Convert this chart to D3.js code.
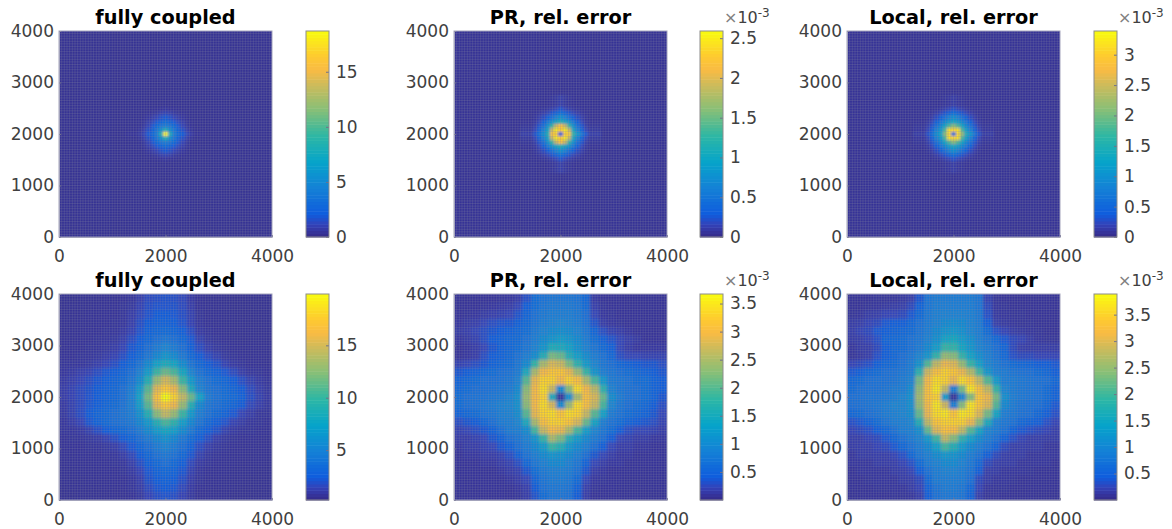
<!DOCTYPE html>
<html>
<head>
<meta charset="utf-8">
<script src="https://cdnjs.cloudflare.com/ajax/libs/d3/7.8.5/d3.min.js"></script>
<style>
    html, body { margin: 0; padding: 0; background: #fff; }
    svg { display: block; }
    text { font-family: "DejaVu Sans", sans-serif; }
</style>
</head>
<body>
<svg id="chart" width="1172" height="529"></svg>
<script>
// parula colormap, sampled
var parulaStops = [0, 0.032, 0.0635, 0.111, 0.238, 0.365, 0.492, 0.619, 0.746, 0.81, 0.873, 1];
var parulaColors = ["#352a87", "#3636a0", "#3243ba", "#0f5cdd", "#1481d6", "#06a4ca", "#2eb7a4", "#87bf77", "#d1bb59", "#f8bb44", "#fec832", "#f9fb0e"];

var axisTicksX = [0, 2000, 4000];
var axisTicksY = [0, 1000, 2000, 3000, 4000];

var titles = ["fully coupled", "PR, rel. error", "Local, rel. error"];

// colorbar limits and ticks, top row then bottom row
var limitsTop = [[0, 18.7], [0, 2.59], [0, 3.39]];
var limitsBottom = [[0.24, 19.9], [0, 3.67], [0, 3.89]];
var ticksTop = [[0, 5, 10, 15], [0, 0.5, 1, 1.5, 2, 2.5], [0, 0.5, 1, 1.5, 2, 2.5, 3]];
var ticksBottom = [[5, 10, 15], [0.5, 1, 1.5, 2, 2.5, 3, 3.5], [0.5, 1, 1.5, 2, 2.5, 3, 3.5]];

// top row: only the middle of the domain differs from the background
var backgroundTop = [0.3, 0.05, 0.07];
var cellTop = 80;
var cellBottom = 160;

var fullyTop = [
    [.3, .3, .3, .3, .3, .32, .32, .35, .32, .32, .3, .3, .3, .3, .3],
    [.3, .3, .3, .32, .35, .4, .45, .6, .45, .4, .35, .32, .3, .3, .3],
    [.3, .3, .33, .4, .5, .65, .9, 1.1, .9, .65, .5, .4, .33, .3, .3],
    [.3, .32, .4, .6, .9, 1.2, 1.6, 1.9, 1.6, 1.2, .9, .6, .4, .32, .3],
    [.3, .35, .5, .9, 1.4, 2, 2.6, 3, 2.6, 2, 1.4, .9, .5, .35, .3],
    [.32, .4, .65, 1.2, 2, 3, 3.7, 4.2, 3.7, 3, 2, 1.2, .65, .4, .32],
    [.35, .5, .9, 1.6, 2.6, 3.7, 5.5, 8, 5.5, 3.7, 2.6, 1.6, .9, .5, .35],
    [.45, .7, 1.2, 2, 3, 4.2, 8, 18.5, 8, 4.2, 3, 2.1, 1.3, .75, .45],
    [.35, .5, .9, 1.6, 2.6, 3.7, 5.5, 8, 5.5, 3.7, 2.6, 1.6, .9, .5, .35],
    [.32, .4, .65, 1.2, 2, 3, 3.7, 4.2, 3.7, 3, 2, 1.2, .65, .4, .32],
    [.3, .35, .5, .9, 1.4, 2, 2.6, 3, 2.6, 2, 1.4, .9, .5, .35, .3],
    [.3, .32, .4, .6, .9, 1.2, 1.6, 1.9, 1.6, 1.2, .9, .6, .4, .32, .3],
    [.3, .3, .33, .4, .5, .65, .9, 1.1, .9, .65, .5, .4, .33, .3, .3],
    [.3, .3, .3, .32, .35, .4, .45, .6, .45, .4, .35, .32, .3, .3, .3],
    [.3, .3, .3, .3, .3, .32, .32, .35, .32, .32, .3, .3, .3, .3, .3]
];

var prTop = [
    [.05, .05, .05, .05, .06, .07, .09, .12, .09, .07, .06, .05, .05, .05, .05],
    [.05, .05, .06, .07, .09, .12, .17, .25, .17, .12, .09, .07, .06, .05, .05],
    [.05, .06, .08, .12, .17, .25, .34, .45, .34, .25, .17, .12, .08, .06, .05],
    [.05, .07, .12, .2, .32, .46, .62, .75, .62, .46, .32, .2, .12, .07, .05],
    [.06, .09, .17, .32, .55, .8, 1, 1.15, 1, .8, .55, .32, .17, .09, .06],
    [.07, .12, .25, .46, .8, 1.3, 1.9, 2.2, 1.9, 1.3, .8, .46, .25, .12, .07],
    [.09, .17, .34, .62, 1, 1.9, 2.5, 2.3, 2.5, 1.9, 1.05, .62, .34, .17, .09],
    [.12, .25, .45, .75, 1.15, 2.2, 2.3, .3, 2.3, 2.3, 1.3, .85, .5, .27, .12],
    [.09, .17, .34, .62, 1, 1.9, 2.5, 2.3, 2.5, 1.9, 1.05, .62, .34, .17, .09],
    [.07, .12, .25, .46, .8, 1.3, 1.9, 2.2, 1.9, 1.3, .8, .46, .25, .12, .07],
    [.06, .09, .17, .32, .55, .8, 1, 1.15, 1, .8, .55, .32, .17, .09, .06],
    [.05, .07, .12, .2, .32, .46, .62, .75, .62, .46, .32, .2, .12, .07, .05],
    [.05, .06, .08, .12, .17, .25, .34, .45, .34, .25, .17, .12, .08, .06, .05],
    [.05, .05, .06, .07, .09, .12, .17, .25, .17, .12, .09, .07, .06, .05, .05],
    [.05, .05, .05, .05, .06, .07, .09, .12, .09, .07, .06, .05, .05, .05, .05]
];

var localTop = [
    [.07, .07, .07, .07, .08, .09, .11, .14, .11, .09, .08, .07, .07, .07, .07],
    [.07, .07, .08, .09, .12, .16, .22, .3, .22, .16, .12, .09, .08, .07, .07],
    [.07, .08, .1, .15, .23, .32, .44, .56, .44, .32, .23, .15, .1, .08, .07],
    [.07, .09, .15, .26, .42, .6, .8, .95, .8, .6, .42, .26, .15, .09, .07],
    [.08, .12, .23, .42, .65, .9, 1.15, 1.3, 1.15, .9, .65, .42, .23, .12, .08],
    [.09, .16, .32, .6, .9, 1.3, 1.8, 2.1, 1.8, 1.3, .9, .6, .32, .16, .09],
    [.11, .22, .44, .8, 1.15, 1.8, 3.2, 3.1, 3.2, 1.8, 1.2, .8, .44, .22, .11],
    [.14, .3, .56, .95, 1.3, 2.1, 3.1, .6, 3.1, 2.2, 1.45, 1.05, .62, .32, .14],
    [.11, .22, .44, .8, 1.15, 1.8, 3.2, 3.1, 3.2, 1.8, 1.2, .8, .44, .22, .11],
    [.09, .16, .32, .6, .9, 1.3, 1.8, 2.1, 1.8, 1.3, .9, .6, .32, .16, .09],
    [.08, .12, .23, .42, .65, .9, 1.15, 1.3, 1.15, .9, .65, .42, .23, .12, .08],
    [.07, .09, .15, .26, .42, .6, .8, .95, .8, .6, .42, .26, .15, .09, .07],
    [.07, .08, .1, .15, .23, .32, .44, .56, .44, .32, .23, .15, .1, .08, .07],
    [.07, .07, .08, .09, .12, .16, .22, .3, .22, .16, .12, .09, .08, .07, .07],
    [.07, .07, .07, .07, .08, .09, .11, .14, .11, .09, .08, .07, .07, .07, .07]
];

var fullyBottom = [
    [.55, .55, .6, .6, .6, .65, .65, .7, .8, 1.2, 1.7, 1.9, 2, 1.9, 1.6, 1, .7, .6, .6, .55, .55, .55, .55, .55, .55],
    [.55, .6, .6, .6, .65, .65, .7, .75, .9, 1.4, 1.9, 2.1, 2.1, 2, 1.7, 1.1, .7, .65, .6, .6, .55, .55, .55, .55, .55],
    [.6, .6, .6, .65, .65, .7, .7, .8, 1.1, 1.6, 2.1, 2.4, 2.4, 2.3, 1.9, 1.3, .75, .65, .65, .6, .6, .55, .55, .55, .55],
    [.6, .6, .65, .65, .7, .7, .75, .85, 1.2, 1.9, 2.4, 2.8, 2.8, 2.6, 2.1, 1.4, .85, .7, .65, .6, .6, .6, .55, .55, .55],
    [.6, .65, .65, .7, .7, .75, .8, 1, 1.4, 2.1, 2.8, 3.2, 3.4, 3.1, 2.6, 1.8, 1, .8, .7, .65, .6, .6, .6, .55, .55],
    [.65, .65, .7, .7, .75, .8, .9, 1.2, 1.8, 2.5, 3.2, 3.8, 4.2, 3.8, 3.2, 2.3, 1.3, .9, .75, .7, .65, .6, .6, .6, .55],
    [.65, .7, .7, .75, .8, .9, 1.1, 1.5, 2.2, 2.9, 3.7, 4.5, 5.2, 4.6, 3.7, 2.7, 1.8, 1.2, .9, .75, .7, .65, .65, .6, .6],
    [.7, .7, .75, .8, .9, 1.1, 1.4, 1.9, 2.6, 3.4, 4.3, 5.4, 6.5, 5.6, 4.4, 3.3, 2.4, 1.8, 1.3, .9, .75, .7, .65, .65, .6],
    [.75, .8, .85, .95, 1.2, 1.5, 1.9, 2.5, 3.2, 4.1, 5.6, 7.5, 8.5, 7.8, 5.8, 4.1, 3.2, 2.5, 2, 1.4, 1, .8, .7, .65, .6],
    [.85, 1, 1.2, 1.4, 1.8, 2.2, 2.6, 3.1, 3.7, 5, 7, 10, 11.5, 10.5, 8, 5.3, 3.9, 3.3, 2.8, 2.3, 1.7, 1.1, .85, .75, .7],
    [1, 1.2, 1.5, 1.8, 2.2, 2.6, 3, 3.4, 4.2, 5.8, 9, 13, 15, 13.5, 10, 6.8, 4.7, 3.9, 3.5, 3.1, 2.5, 1.9, 1.3, 1, .8],
    [1.1, 1.4, 1.7, 2, 2.4, 2.8, 3.2, 3.7, 4.7, 7, 11, 15.5, 17.5, 16, 12.5, 8.5, 5.2, 4.2, 3.7, 3.5, 3, 2.4, 1.7, 1.2, .9],
    [1.1, 1.4, 1.7, 2.1, 2.5, 2.9, 3.3, 3.8, 4.9, 7.5, 12, 17, 20, 18, 14.5, 11.5, 7.5, 4.5, 3.9, 3.6, 3.3, 2.7, 1.9, 1.3, 1],
    [1, 1.3, 1.7, 2.2, 2.6, 3.1, 3.5, 4, 4.9, 7.2, 11, 15.5, 17.5, 16, 13, 9, 5.5, 4.2, 3.7, 3.4, 3, 2.4, 1.6, 1.2, .9],
    [.95, 1.3, 1.8, 2.4, 3, 3.4, 3.8, 4.2, 4.7, 6.2, 9, 12.5, 14.5, 13, 10, 6.8, 4.7, 3.9, 3.4, 2.9, 2.3, 1.5, 1.1, .8, .75],
    [.85, 1.1, 1.5, 2.2, 2.9, 3.4, 3.8, 4, 4.4, 5.4, 6.8, 9, 10.5, 9.5, 7.2, 5.4, 4.1, 3.3, 2.6, 2.1, 1.4, 1.05, .85, .75, .7],
    [.8, .85, 1, 1.3, 1.9, 2.5, 3.1, 3.4, 3.8, 4.6, 5.7, 7, 8, 7.2, 5.7, 4.4, 3.3, 2.6, 2, 1.3, 1, .8, .75, .7, .65],
    [.7, .75, .8, .9, 1.05, 1.4, 1.9, 2.5, 3.1, 3.7, 4.5, 5.4, 6.2, 5.4, 4.3, 3.5, 2.6, 1.9, 1.2, .9, .75, .7, .7, .65, .6],
    [.65, .7, .7, .75, .8, .9, 1.1, 1.6, 2.3, 3.1, 3.8, 4.6, 5.1, 4.6, 3.7, 2.8, 1.8, 1.2, .9, .75, .7, .65, .65, .6, .6],
    [.65, .65, .7, .7, .7, .75, .85, 1.1, 1.6, 2.4, 3.2, 3.9, 4.3, 3.9, 3.2, 2.2, 1.3, .9, .75, .7, .65, .65, .6, .6, .6],
    [.6, .65, .65, .65, .7, .7, .75, .85, 1.2, 1.9, 2.7, 3.3, 3.7, 3.3, 2.6, 1.6, 1, .8, .7, .65, .65, .6, .6, .6, .55],
    [.6, .6, .65, .65, .65, .7, .7, .75, 1, 1.5, 2.3, 2.9, 3.2, 2.9, 2.2, 1.3, .85, .7, .65, .65, .6, .6, .6, .55, .55],
    [.6, .6, .6, .65, .65, .65, .7, .7, .85, 1.2, 2, 2.5, 2.8, 2.5, 1.9, 1.1, .75, .65, .65, .6, .6, .6, .55, .55, .55],
    [.55, .6, .6, .6, .6, .65, .65, .7, .8, 1.05, 1.7, 2.2, 2.4, 2.2, 1.6, 1, .7, .65, .6, .6, .6, .55, .55, .55, .55],
    [.55, .55, .6, .6, .6, .6, .65, .65, .7, .9, 1.5, 1.9, 2.1, 1.9, 1.4, .9, .65, .65, .6, .6, .55, .55, .55, .55, .55]
];

var prBottom = [
    [.08, .08, .09, .09, .09, .1, .12, .16, .32, .62, .7, .74, .74, .74, .7, .56, .14, .09, .08, .08, .08, .08, .08, .08, .08],
    [.08, .09, .09, .1, .12, .14, .16, .24, .44, .64, .74, .78, .78, .78, .74, .6, .18, .1, .09, .09, .08, .08, .08, .08, .08],
    [.09, .1, .12, .15, .18, .2, .24, .34, .52, .68, .78, .84, .84, .84, .78, .65, .24, .12, .1, .09, .09, .09, .08, .08, .08],
    [.12, .15, .18, .24, .3, .34, .36, .46, .58, .72, .84, .9, .94, .9, .84, .7, .34, .16, .12, .1, .09, .09, .09, .08, .08],
    [.15, .18, .24, .3, .36, .42, .48, .54, .64, .78, .92, 1, 1.05, 1, .92, .76, .52, .3, .2, .16, .12, .09, .09, .08, .08],
    [.12, .15, .2, .3, .42, .48, .54, .6, .7, .84, 1, 1.15, 1.25, 1.15, 1, .82, .64, .46, .34, .24, .18, .14, .09, .09, .09],
    [.09, .12, .16, .24, .36, .48, .54, .64, .75, .92, 1.15, 1.55, 1.5, 1.35, 1.1, .9, .74, .6, .46, .24, .16, .12, .12, .12, .12],
    [.09, .12, .16, .3, .42, .5, .6, .7, .85, 1.05, 1.6, 2.2, 2.1, 1.6, 1.3, 1.05, .84, .7, .54, .3, .24, .24, .2, .2, .2],
    [.2, .24, .3, .36, .48, .54, .62, .75, 1, 1.8, 2.5, 2.8, 2.7, 2.2, 1.7, 1.25, .95, .75, .65, .55, .48, .42, .36, .36, .3],
    [.36, .42, .5, .56, .62, .66, .7, .8, 1.5, 2.5, 3, 3.2, 3.2, 2.9, 2.4, 1.8, 1.15, .85, .75, .66, .62, .56, .5, .42, .36],
    [.5, .56, .62, .66, .66, .7, .75, .9, 2, 2.9, 3.3, 3.3, 3, 3.3, 3.1, 2.5, 1.9, 1.2, .8, .75, .7, .62, .62, .5, .42],
    [.56, .62, .66, .66, .7, .75, .8, 1, 2.3, 3, 3.4, 2.7, 1, 2.3, 3.4, 3, 2.6, 1.7, .9, .75, .7, .66, .62, .5, .42],
    [.62, .66, .7, .7, .75, .8, .9, 1.1, 2.4, 3, 3.3, 1.5, .1, 1.1, 2.5, 3.1, 2.8, 2.1, 1.05, .8, .7, .66, .62, .5, .36],
    [.62, .66, .7, .75, .8, .9, .95, 1.1, 2.3, 3, 3.4, 2.8, 1, 2.4, 3.4, 3.1, 2.7, 1.9, .95, .75, .66, .62, .56, .42, .3],
    [.5, .56, .62, .7, .75, .85, .9, 1.05, 2, 2.9, 3.3, 3.4, 3.2, 3.4, 3.3, 2.7, 2, 1.35, .8, .7, .62, .56, .5, .36, .24],
    [.3, .36, .42, .55, .66, .8, .85, .95, 1.5, 2.5, 3.1, 3.3, 3.3, 3.2, 2.8, 2.1, 1.4, .85, .7, .62, .5, .42, .36, .3, .2],
    [.2, .24, .3, .36, .48, .66, .8, .85, 1.05, 1.9, 2.7, 3, 2.9, 2.5, 1.9, 1.3, .95, .75, .62, .42, .3, .24, .24, .2, .16],
    [.16, .16, .2, .24, .36, .48, .66, .75, .9, 1.15, 1.8, 2.5, 2.2, 1.6, 1.25, 1, .8, .66, .42, .24, .2, .16, .16, .12, .12],
    [.12, .15, .16, .2, .24, .36, .48, .66, .8, .98, 1.25, 1.8, 1.6, 1.2, 1, .85, .66, .42, .24, .16, .16, .12, .12, .09, .09],
    [.09, .12, .12, .15, .16, .2, .3, .48, .7, .85, 1, 1.15, 1.1, .98, .85, .66, .36, .24, .16, .12, .12, .09, .09, .09, .09],
    [.09, .09, .09, .12, .12, .16, .2, .3, .54, .75, .88, .98, .98, .88, .75, .48, .24, .16, .12, .12, .09, .09, .09, .09, .08],
    [.08, .09, .09, .09, .09, .12, .16, .2, .36, .64, .78, .86, .86, .82, .68, .36, .16, .12, .09, .09, .09, .09, .08, .08, .08],
    [.08, .08, .09, .09, .09, .09, .12, .16, .24, .52, .72, .8, .8, .76, .6, .24, .12, .1, .09, .09, .08, .08, .08, .08, .08],
    [.08, .08, .08, .09, .09, .09, .09, .12, .18, .4, .68, .76, .76, .72, .48, .18, .1, .09, .09, .08, .08, .08, .08, .08, .08],
    [.07, .08, .08, .08, .08, .09, .09, .1, .16, .34, .62, .72, .72, .68, .4, .16, .09, .09, .08, .08, .08, .08, .07, .07, .07]
];

var localBottom = [
    [.09, .09, .09, .1, .1, .12, .14, .18, .38, .78, .84, .84, .84, .84, .84, .78, .22, .1, .09, .09, .09, .09, .09, .09, .09],
    [.09, .09, .1, .12, .14, .16, .18, .28, .52, .78, .88, .88, .88, .88, .88, .78, .28, .12, .1, .09, .09, .09, .09, .09, .09],
    [.1, .12, .16, .18, .24, .26, .28, .4, .62, .82, .92, .96, .96, .96, .92, .82, .34, .14, .12, .1, .1, .09, .09, .09, .09],
    [.16, .18, .24, .28, .4, .46, .46, .58, .72, .84, .96, 1.05, 1.1, 1.05, .96, .84, .46, .18, .14, .12, .1, .1, .09, .09, .09],
    [.18, .24, .28, .4, .46, .55, .58, .64, .76, .88, 1.05, 1.2, 1.25, 1.15, 1, .88, .64, .34, .24, .16, .14, .12, .1, .09, .09],
    [.16, .18, .24, .34, .55, .6, .64, .72, .8, .96, 1.15, 1.45, 1.55, 1.3, 1.15, .92, .76, .6, .4, .28, .24, .16, .12, .1, .1],
    [.12, .16, .18, .28, .46, .6, .64, .72, .84, 1.05, 1.35, 1.9, 1.85, 1.5, 1.25, 1, .84, .68, .55, .28, .18, .16, .16, .16, .16],
    [.1, .14, .18, .34, .46, .58, .68, .8, 1, 1.25, 1.85, 2.5, 2.4, 1.85, 1.45, 1.15, .92, .76, .6, .34, .28, .28, .24, .24, .24],
    [.24, .28, .34, .46, .58, .64, .72, .84, 1.2, 2.1, 2.8, 3.1, 3, 2.5, 1.9, 1.4, 1, .84, .72, .64, .58, .55, .46, .46, .4],
    [.4, .46, .58, .64, .68, .72, .8, .88, 1.8, 2.9, 3.3, 3.5, 3.4, 3.1, 2.7, 2, 1.25, .92, .84, .76, .72, .68, .64, .58, .46],
    [.58, .64, .68, .72, .72, .76, .84, .96, 2.3, 3.2, 3.6, 3.5, 3.1, 3.6, 3.4, 2.8, 2.1, 1.3, .88, .84, .8, .76, .72, .68, .58],
    [.64, .68, .72, .72, .76, .84, .88, 1.1, 2.5, 3.3, 3.7, 2.8, .9, 2.3, 3.7, 3.3, 2.8, 1.9, 1, .84, .8, .76, .72, .64, .52],
    [.68, .72, .76, .76, .8, .88, 1, 1.15, 2.6, 3.3, 3.5, 1.3, .1, 1, 2.4, 3.4, 3.1, 2.3, 1.15, .88, .8, .76, .72, .64, .52],
    [.68, .72, .76, .8, .88, 1, 1, 1.15, 2.5, 3.2, 3.7, 2.9, .9, 2.4, 3.7, 3.4, 3, 2.1, 1.05, .84, .76, .72, .68, .58, .4],
    [.58, .64, .68, .76, .84, .92, 1, 1.1, 2.2, 3.1, 3.6, 3.7, 3.4, 3.7, 3.6, 3, 2.3, 1.5, .88, .8, .72, .68, .58, .46, .34],
    [.34, .4, .52, .64, .76, .88, .92, 1, 1.7, 2.8, 3.4, 3.5, 3.5, 3.5, 3.1, 2.4, 1.6, .92, .8, .72, .58, .52, .46, .34, .24],
    [.24, .28, .34, .46, .58, .72, .88, .92, 1.15, 2.2, 3, 3.3, 3.2, 2.8, 2.1, 1.5, 1, .84, .72, .52, .4, .34, .28, .24, .18],
    [.18, .18, .24, .28, .4, .58, .72, .84, 1, 1.3, 1.95, 2.8, 2.4, 1.8, 1.4, 1.1, .88, .72, .52, .34, .24, .18, .18, .16, .16],
    [.16, .18, .18, .24, .28, .4, .58, .72, .88, 1.05, 1.4, 2, 1.7, 1.3, 1.05, .88, .72, .52, .28, .18, .18, .16, .16, .12, .12],
    [.12, .16, .16, .18, .18, .24, .34, .58, .8, .92, 1.1, 1.25, 1.2, 1.05, .88, .72, .46, .28, .18, .16, .16, .12, .12, .12, .12],
    [.12, .12, .12, .16, .16, .18, .24, .34, .64, .84, .96, 1.05, 1.05, .96, .8, .58, .28, .18, .16, .16, .12, .12, .12, .12, .09],
    [.09, .12, .12, .12, .12, .16, .18, .24, .46, .72, .88, .96, .96, .88, .76, .46, .18, .16, .12, .12, .12, .1, .09, .09, .09],
    [.09, .09, .1, .12, .12, .12, .16, .18, .28, .62, .84, .88, .88, .84, .68, .28, .16, .12, .12, .1, .09, .09, .09, .09, .09],
    [.09, .09, .09, .1, .1, .12, .12, .16, .24, .52, .76, .84, .84, .8, .58, .24, .12, .1, .1, .09, .09, .09, .09, .09, .09],
    [.08, .09, .09, .09, .09, .1, .1, .12, .18, .46, .72, .8, .8, .76, .52, .18, .1, .1, .09, .09, .09, .09, .08, .08, .08]
];

var svg = d3.select("#chart");
var defs = svg.append("defs");

var plotW = 213, plotH = 206, barW = 23;
var colX = [59, 454, 847];
var barX = [306, 700, 1094];
var rowY = [31, 294];
var textColor = "#404040";

defs.append("filter").attr("id", "blurTop")
    .attr("x", "-10%").attr("y", "-10%").attr("width", "120%").attr("height", "120%")
    .append("feGaussianBlur").attr("stdDeviation", 0.9);
defs.append("filter").attr("id", "blurBottom")
    .attr("x", "-10%").attr("y", "-10%").attr("width", "120%").attr("height", "120%")
    .append("feGaussianBlur").attr("stdDeviation", 1.8);

var parula = d3.scaleLinear().domain(parulaStops).range(parulaColors).interpolate(d3.interpolateRgb);

function drawHeat(g, id, values, cell, limits, base, filterId) {
    var x = d3.scaleLinear().domain([0, 4000]).range([0, plotW]);
    var y = d3.scaleLinear().domain([0, 4000]).range([plotH, 0]);
    var norm = d3.scaleLinear().domain(limits).range([0, 1]).clamp(true);
    var n = values.length;

    defs.append("clipPath").attr("id", id)
        .append("rect").attr("width", plotW).attr("height", plotH);

    var clipped = g.append("g").attr("clip-path", "url(#" + id + ")");
    var heat = clipped.append("g").attr("filter", "url(#" + filterId + ")");

    heat.append("rect")
        .attr("x", -15).attr("y", -15)
        .attr("width", plotW + 30).attr("height", plotH + 30)
        .attr("fill", parula(norm(base)));

    // two extra cells per side so the blur does not fade at the frame
    var cells = [];
    for (var r = -2; r < n + 2; r++) {
        for (var c = -2; c < n + 2; c++) {
            var rr = Math.max(0, Math.min(n - 1, r));
            var cc = Math.max(0, Math.min(n - 1, c));
            cells.push({r: r, c: c, v: values[rr][cc]});
        }
    }
    var half = n * cell / 2;
    heat.selectAll("rect.cell").data(cells).enter().append("rect")
        .attr("class", "cell")
        .attr("x", function (d) { return x(2000 - half + d.c * cell); })
        .attr("y", function (d) { return y(2000 + half - d.r * cell); })
        .attr("width", x(cell) - x(0) + 0.3)
        .attr("height", y(0) - y(cell) + 0.3)
        .attr("shape-rendering", "crispEdges")
        .attr("fill", function (d) { return parula(norm(d.v)); });

    // pcolor mesh
    var mesh = d3.range(50, 4000, 50);
    clipped.selectAll("line.mx").data(mesh).enter().append("line")
        .attr("class", "mx")
        .attr("x1", function (d) { return x(d); }).attr("x2", function (d) { return x(d); })
        .attr("y1", 0).attr("y2", plotH);
    clipped.selectAll("line.my").data(mesh).enter().append("line")
        .attr("class", "my")
        .attr("y1", function (d) { return y(d); }).attr("y2", function (d) { return y(d); })
        .attr("x1", 0).attr("x2", plotW);
    clipped.selectAll("line")
        .attr("stroke", "#8a8aa0").attr("stroke-width", 0.6).attr("stroke-opacity", 0.42);

    var bottomAxis = d3.axisBottom(x).tickValues(axisTicksX).tickFormat(d3.format("d"))
        .tickSizeInner(-2).tickSizeOuter(0).tickPadding(13);
    var leftAxis = d3.axisLeft(y).tickValues(axisTicksY).tickFormat(d3.format("d"))
        .tickSizeInner(-2).tickSizeOuter(0).tickPadding(5);
    styleAxis(g.append("g").attr("transform", "translate(0," + plotH + ")").call(bottomAxis));
    styleAxis(g.append("g").call(leftAxis));
    g.append("rect").attr("width", plotW).attr("height", plotH)
        .attr("fill", "none").attr("stroke", "#a3a3bb").attr("stroke-width", 1);
}

function styleAxis(a) {
    a.select(".domain").attr("stroke", "#a3a3bb");
    a.selectAll(".tick line").attr("stroke", "#70708a");
    a.selectAll("text").attr("fill", textColor).attr("font-size", 17)
        .attr("font-family", "DejaVu Sans");
}

function drawBar(g, limits, ticks, scaled) {
    var y = d3.scaleLinear().domain(limits).range([plotH, 0]);
    var steps = d3.range(64);
    g.selectAll("rect.step").data(steps).enter().append("rect")
        .attr("class", "step")
        .attr("x", 0)
        .attr("y", function (d) { return plotH - (d + 1) * plotH / 64; })
        .attr("width", barW)
        .attr("height", plotH / 64 + 0.5)
        .attr("fill", function (d) { return parula((d + 0.5) / 64); });

    var axis = d3.axisRight(y).tickValues(ticks).tickSizeInner(-3).tickSizeOuter(0).tickPadding(7)
        .tickFormat(function (d) { return String(d); });
    var a = g.append("g").attr("transform", "translate(" + barW + ",0)").call(axis);
    styleAxis(a);
    a.select(".domain").remove();
    g.append("rect").attr("width", barW).attr("height", plotH)
        .attr("fill", "none").attr("stroke", "#8c8c8c").attr("stroke-width", 1);

    if (scaled) {
        var t = g.append("text").attr("x", barW + 1).attr("y", -8)
            .attr("fill", textColor).attr("font-size", 16);
        t.append("tspan").attr("fill", "#808080").text("\u00d7");
        t.append("tspan").text("10");
        t.append("tspan").attr("font-size", 12).attr("dy", -6).text("-3");
    }
}

var topData = [fullyTop, prTop, localTop];
var bottomData = [fullyBottom, prBottom, localBottom];

titles.forEach(function (title, i) {
    [0, 1].forEach(function (row) {
        var g = svg.append("g").attr("transform", "translate(" + colX[i] + "," + rowY[row] + ")");
        if (row === 0) {
            drawHeat(g, "clip" + i + row, topData[i], cellTop, limitsTop[i], backgroundTop[i], "blurTop");
        } else {
            var base = d3.min(bottomData[i], function (r) { return d3.min(r); });
            drawHeat(g, "clip" + i + row, bottomData[i], cellBottom, limitsBottom[i], base, "blurBottom");
        }
        g.append("text")
            .attr("x", plotW / 2).attr("y", -7.5)
            .attr("text-anchor", "middle")
            .attr("font-size", 19.3).attr("font-weight", "bold")
            .attr("fill", "#000")
            .text(title);
        var b = svg.append("g").attr("transform", "translate(" + barX[i] + "," + rowY[row] + ")");
        drawBar(b, row === 0 ? limitsTop[i] : limitsBottom[i], row === 0 ? ticksTop[i] : ticksBottom[i], i > 0);
    });
});
</script>
</body>
</html>
